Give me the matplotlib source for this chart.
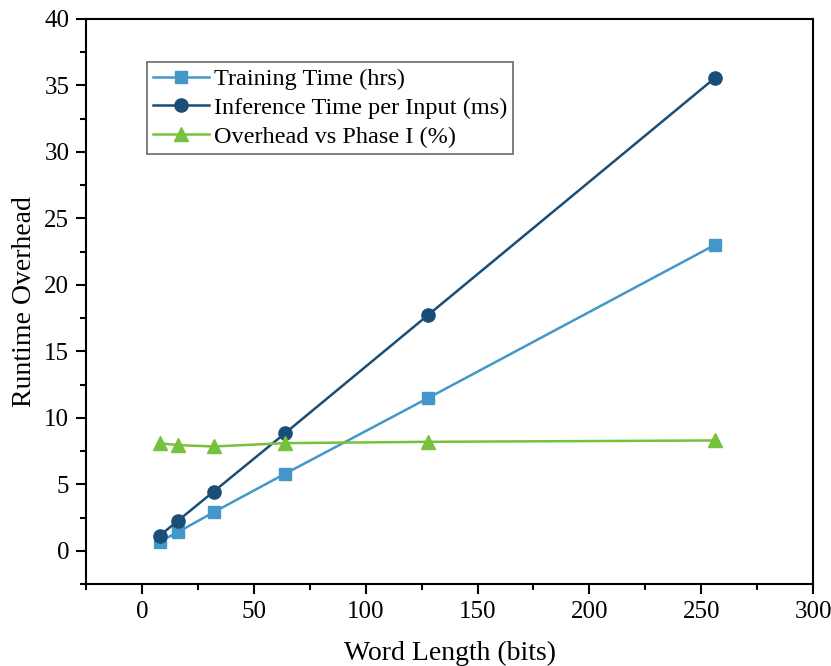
import matplotlib.pyplot as plt
from matplotlib.ticker import MultipleLocator

plt.rcParams['font.family'] = ['Liberation Serif', 'DejaVu Serif']
plt.rcParams['mathtext.fontset'] = 'stix'

# %% data
word_len = [8, 16, 32, 64, 128, 256]
train_hrs = [0.7, 1.4, 2.9, 5.8, 11.5, 23.0]
infer_ms = [1.15, 2.25, 4.45, 8.85, 17.75, 35.55]
overhead_pct = [8.1, 7.95, 7.85, 8.1, 8.2, 8.3]

c_train = '#4596cb'
c_infer = '#1a4e77'
c_over = '#77c23c'

# %% plot
fig = plt.figure(figsize=(8.31, 6.66), dpi=100)
ax = fig.add_axes([0.1035, 0.123, 0.875, 0.8485])

ax.plot(word_len, train_hrs, color=c_train, marker='s', ms=9, lw=1.8,
        label='Training Time (hrs)')
ax.plot(word_len, infer_ms, color=c_infer, marker='o', ms=9.5, lw=1.8,
        label='Inference Time per Input (ms)')
ax.plot(word_len, overhead_pct, color=c_over, marker='^', ms=10, lw=1.8,
        label='Overhead vs Phase I (%)')

ax.set_xlim(-25, 300)
ax.set_ylim(-2.5, 40)
ax.xaxis.set_major_locator(MultipleLocator(50))
ax.xaxis.set_minor_locator(MultipleLocator(25))
ax.yaxis.set_major_locator(MultipleLocator(5))
ax.yaxis.set_minor_locator(MultipleLocator(2.5))
ax.tick_params(which='major', direction='out', length=7, width=1.5, labelsize=18, pad=5)
ax.tick_params(which='minor', direction='out', length=4, width=1.5)
for s in ax.spines.values():
    s.set_linewidth(1.5)

ax.set_xlabel('Word Length (bits)', fontsize=20, labelpad=13)
ax.set_ylabel('Runtime Overhead', fontsize=20, labelpad=5)

leg = ax.legend(loc='upper left', bbox_to_anchor=(0.084, 0.924), fontsize=17.5,
                frameon=True, fancybox=False, edgecolor='#444444',
                borderpad=0.25, labelspacing=0.28, handlelength=2.3,
                handletextpad=0.2, borderaxespad=0)
leg.get_frame().set_linewidth(1.2)

plt.savefig('out.png', dpi=100)
